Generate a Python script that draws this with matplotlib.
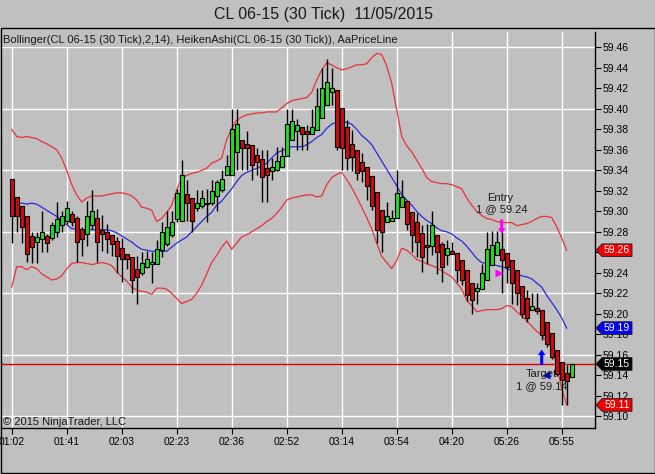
import matplotlib
matplotlib.use("Agg")
import matplotlib.pyplot as plt
import numpy as np
from matplotlib.patches import Polygon, Rectangle

plt.rcParams["font.family"] = ["Liberation Sans", "DejaVu Sans"]

TITLE = "CL 06-15 (30 Tick)  11/05/2015"
INDICATORS = "Bollinger(CL 06-15 (30 Tick),2,14), HeikenAshi(CL 06-15 (30 Tick)), AaPriceLine"
COPYRIGHT = "\u00a9 2015 NinjaTrader, LLC"

time_labels = ["01:02", "01:41", "02:03", "02:23", "02:36", "02:52",
               "03:14", "03:54", "04:20", "05:26", "05:55"]
label_every = 11  # bars between time labels

# Heiken Ashi bars
ha_open = [
    59.332, 59.314, 59.305, 59.295, 59.276, 59.270, 59.273, 59.276, 59.274, 59.280,
    59.287, 59.291, 59.297, 59.293, 59.283, 59.278, 59.287, 59.293, 59.282, 59.280,
    59.277, 59.271, 59.264, 59.258, 59.255, 59.244, 59.240, 59.246, 59.249, 59.249,
    59.262, 59.268, 59.277, 59.292, 59.291, 59.317, 59.313, 59.303, 59.305, 59.307,
    59.308, 59.315, 59.321, 59.335, 59.335, 59.358, 59.370, 59.366, 59.365, 59.355,
    59.351, 59.342, 59.339, 59.340, 59.343, 59.354, 59.370, 59.378, 59.382, 59.378,
    59.375, 59.379, 59.391, 59.404, 59.416, 59.418, 59.401, 59.382, 59.366, 59.360,
    59.348, 59.343, 59.334, 59.319, 59.301, 59.290, 59.291, 59.293, 59.304, 59.310,
    59.299, 59.290, 59.279, 59.267, 59.266, 59.277, 59.268, 59.257, 59.261, 59.259,
    59.252, 59.243, 59.230, 59.222, 59.224, 59.233, 59.248, 59.257, 59.263, 59.259,
    59.252, 59.243, 59.227, 59.215, 59.204, 59.206, 59.204, 59.192, 59.181, 59.165,
    59.153, 59.142, 59.138,
]
ha_close = [
    59.295, 59.295, 59.285, 59.258, 59.265, 59.275, 59.280, 59.269, 59.287, 59.292,
    59.295, 59.303, 59.290, 59.270, 59.273, 59.295, 59.300, 59.270, 59.278, 59.273,
    59.268, 59.256, 59.253, 59.253, 59.233, 59.236, 59.250, 59.253, 59.251, 59.263,
    59.280, 59.285, 59.290, 59.318, 59.335, 59.308, 59.291, 59.308, 59.313, 59.308,
    59.320, 59.329, 59.332, 59.344, 59.380, 59.385, 59.362, 59.362, 59.345, 59.348,
    59.333, 59.335, 59.343, 59.349, 59.354, 59.385, 59.388, 59.384, 59.375, 59.375,
    59.382, 59.403, 59.420, 59.426, 59.420, 59.363, 59.362, 59.352, 59.353, 59.337,
    59.339, 59.325, 59.305, 59.282, 59.280, 59.295, 59.293, 59.318, 59.314, 59.288,
    59.277, 59.270, 59.255, 59.265, 59.287, 59.260, 59.246, 59.264, 59.258, 59.243,
    59.233, 59.218, 59.213, 59.225, 59.240, 59.263, 59.267, 59.270, 59.252, 59.246,
    59.230, 59.220, 59.200, 59.196, 59.208, 59.203, 59.179, 59.170, 59.158, 59.141,
    59.135, 59.134, 59.151,
]
ha_high = [
    59.332, 59.314, 59.305, 59.295, 59.280, 59.280, 59.300, 59.278, 59.290, 59.309,
    59.300, 59.310, 59.300, 59.295, 59.285, 59.310, 59.321, 59.302, 59.296, 59.288,
    59.277, 59.275, 59.274, 59.258, 59.255, 59.256, 59.260, 59.261, 59.260, 59.272,
    59.290, 59.300, 59.300, 59.322, 59.350, 59.331, 59.313, 59.321, 59.321, 59.322,
    59.331, 59.331, 59.340, 59.355, 59.400, 59.400, 59.370, 59.378, 59.365, 59.362,
    59.360, 59.360, 59.352, 59.363, 59.363, 59.400, 59.400, 59.390, 59.382, 59.384,
    59.400, 59.420, 59.440, 59.449, 59.440, 59.418, 59.401, 59.389, 59.379, 59.360,
    59.357, 59.343, 59.334, 59.319, 59.301, 59.309, 59.301, 59.340, 59.331, 59.310,
    59.299, 59.298, 59.287, 59.288, 59.300, 59.277, 59.270, 59.272, 59.270, 59.259,
    59.252, 59.243, 59.230, 59.230, 59.249, 59.280, 59.281, 59.281, 59.280, 59.259,
    59.252, 59.243, 59.227, 59.223, 59.220, 59.220, 59.204, 59.192, 59.181, 59.165,
    59.153, 59.150, 59.151,
]
ha_low = [
    59.269, 59.280, 59.269, 59.251, 59.250, 59.250, 59.260, 59.260, 59.272, 59.275,
    59.280, 59.288, 59.286, 59.251, 59.256, 59.266, 59.283, 59.251, 59.261, 59.259,
    59.256, 59.240, 59.231, 59.244, 59.220, 59.210, 59.238, 59.245, 59.230, 59.249,
    59.255, 59.266, 59.275, 59.290, 59.291, 59.291, 59.280, 59.300, 59.303, 59.290,
    59.306, 59.300, 59.319, 59.335, 59.335, 59.340, 59.340, 59.340, 59.331, 59.335,
    59.309, 59.309, 59.331, 59.339, 59.343, 59.354, 59.370, 59.360, 59.360, 59.360,
    59.375, 59.379, 59.391, 59.404, 59.404, 59.360, 59.340, 59.340, 59.339, 59.331,
    59.329, 59.311, 59.301, 59.269, 59.260, 59.290, 59.291, 59.293, 59.304, 59.282,
    59.260, 59.255, 59.241, 59.249, 59.257, 59.239, 59.231, 59.248, 59.258, 59.231,
    59.228, 59.212, 59.200, 59.210, 59.224, 59.233, 59.248, 59.257, 59.220, 59.230,
    59.210, 59.209, 59.196, 59.192, 59.204, 59.200, 59.174, 59.168, 59.156, 59.139,
    59.111, 59.111, 59.138,
]

# Bollinger(2,14) bands, one value per completed bar
bb_upper = [
    59.380, 59.373, 59.372, 59.373, 59.372, 59.371, 59.368, 59.366, 59.363, 59.360,
    59.352, 59.340, 59.326, 59.316, 59.309, 59.313, 59.315, 59.315, 59.315, 59.316,
    59.317, 59.318, 59.318, 59.317, 59.315, 59.311, 59.304, 59.303, 59.301, 59.290,
    59.293, 59.299, 59.306, 59.321, 59.332, 59.335, 59.337, 59.338, 59.340, 59.342,
    59.347, 59.349, 59.352, 59.370, 59.381, 59.389, 59.392, 59.394, 59.395, 59.396,
    59.396, 59.397, 59.397, 59.397, 59.401, 59.405, 59.408, 59.409, 59.410, 59.411,
    59.416, 59.428, 59.438, 59.445, 59.443, 59.440, 59.438, 59.439, 59.441, 59.443,
    59.443, 59.444, 59.450, 59.454, 59.453, 59.442, 59.425, 59.399, 59.373, 59.364,
    59.358, 59.350, 59.342, 59.333, 59.329, 59.328, 59.327, 59.327, 59.326, 59.324,
    59.322, 59.313, 59.306, 59.300, 59.296, 59.293, 59.292, 59.290, 59.289, 59.289,
    59.289, 59.286, 59.287, 59.288, 59.290, 59.293, 59.295, 59.295, 59.294, 59.285,
    59.274, 59.262,
]
bb_middle = [
    59.309, 59.308, 59.308, 59.307, 59.308, 59.307, 59.304, 59.301, 59.298, 59.295,
    59.291, 59.287, 59.283, 59.283, 59.282, 59.282, 59.282, 59.282, 59.282, 59.282,
    59.281, 59.279, 59.276, 59.273, 59.270, 59.266, 59.263, 59.262, 59.261, 59.261,
    59.261, 59.261, 59.265, 59.269, 59.272, 59.275, 59.280, 59.285, 59.290, 59.295,
    59.299, 59.306, 59.310, 59.316, 59.322, 59.329, 59.335, 59.338, 59.340, 59.342,
    59.344, 59.347, 59.352, 59.357, 59.359, 59.361, 59.363, 59.363, 59.363, 59.365,
    59.368, 59.372, 59.375, 59.381, 59.385, 59.387, 59.387, 59.387, 59.385, 59.380,
    59.374, 59.370, 59.365, 59.357, 59.349, 59.341, 59.333, 59.325, 59.316, 59.311,
    59.306, 59.300, 59.295, 59.291, 59.288, 59.284, 59.281, 59.280, 59.278, 59.274,
    59.271, 59.266, 59.260, 59.254, 59.250, 59.249, 59.249, 59.247, 59.246, 59.244,
    59.242, 59.239, 59.237, 59.236, 59.234, 59.230, 59.226, 59.218, 59.211, 59.204,
    59.196, 59.186,
]
bb_lower = [
    59.226, 59.246, 59.246, 59.243, 59.246, 59.244, 59.239, 59.236, 59.233, 59.234,
    59.237, 59.244, 59.249, 59.250, 59.250, 59.249, 59.248, 59.249, 59.250, 59.249,
    59.247, 59.241, 59.236, 59.232, 59.226, 59.223, 59.222, 59.221, 59.219, 59.225,
    59.225, 59.224, 59.220, 59.215, 59.210, 59.212, 59.214, 59.220, 59.228, 59.239,
    59.250, 59.257, 59.265, 59.271, 59.263, 59.269, 59.275, 59.277, 59.280, 59.283,
    59.286, 59.290, 59.293, 59.298, 59.304, 59.311, 59.313, 59.314, 59.315, 59.316,
    59.316, 59.314, 59.315, 59.326, 59.333, 59.336, 59.338, 59.331, 59.323, 59.314,
    59.304, 59.294, 59.283, 59.269, 59.256, 59.250, 59.244, 59.252, 59.264, 59.262,
    59.258, 59.253, 59.251, 59.249, 59.247, 59.245, 59.242, 59.239, 59.236, 59.230,
    59.224, 59.213, 59.208, 59.202, 59.203, 59.204, 59.204, 59.204, 59.205, 59.208,
    59.207, 59.202, 59.198, 59.193, 59.188, 59.183, 59.179, 59.173, 59.167, 59.150,
    59.127, 59.111,
]

entry_bar, entry_qty, entry_price = 98, 1, 59.24
target_bar, target_qty, target_price = 106, 1, 59.14

BG = "#C0C0C0"
UP = "#22DD22"
DOWN = "#D40A0A"
BAND = "#E8323A"
MID = "#2A2AE0"

fig = plt.figure(figsize=(6.55, 4.74), dpi=100, facecolor=BG)
ax = fig.add_axes([1 / 655, 46 / 474, 594 / 655, 396 / 474], facecolor=BG)
ax.set_xlim(-2.14, 116.66)
ax.set_ylim(59.0885, 59.4750)

# grid (white), drawn under everything
for g in np.arange(59.10, 59.47, 0.06):
    ax.axhline(g, color="white", lw=1, zorder=0.5)
tick_pos = np.arange(len(time_labels)) * label_every
for t in tick_pos:
    ax.axvline(t, color="white", lw=1, zorder=0.5)

o = np.array(ha_open)
c = np.array(ha_close)
h = np.array(ha_high)
lo = np.array(ha_low)
x = np.arange(len(o))
colors = np.where(c >= o, UP, DOWN)

bx = np.arange(len(bb_upper))
ax.plot(bx, bb_upper, color=BAND, lw=0.9, zorder=2)
ax.plot(bx, bb_lower, color=BAND, lw=0.9, zorder=2)
ax.plot(bx, bb_middle, color=MID, lw=0.9, zorder=2)

# AaPriceLine at last close
ax.axhline(c[-1], color="#E00000", lw=1, zorder=2.2)

ax.vlines(x, lo, h, color="black", lw=1, zorder=3)
ax.bar(x, np.abs(c - o), bottom=np.minimum(o, c), width=0.78, color=colors,
       edgecolor="black", linewidth=0.8, zorder=4)

# entry / target executions
e_tip = ha_high[entry_bar] - 0.002
e_tail = e_tip + 0.014
ax.annotate("", xy=(entry_bar, e_tip), xytext=(entry_bar, e_tail),
            arrowprops=dict(facecolor="#FF00FF", edgecolor="none", width=2.2,
                            headwidth=5.5, headlength=4, shrink=0), zorder=5)
ax.plot(entry_bar - 0.55, entry_price, marker=">", color="#FF00FF", ms=5.5, mec="none", zorder=5)
ax.annotate(f"{entry_qty} @ {entry_price:.2f}", xy=(entry_bar, e_tail), xytext=(0, 7.2),
            textcoords="offset points", ha="center", va="center", fontsize=8, color="#1a1a1a", zorder=6)
ax.annotate("Entry", xy=(entry_bar, e_tail), xytext=(-1, 15.8),
            textcoords="offset points", ha="center", va="center", fontsize=8, color="#1a1a1a", zorder=6)

t_tip = ha_low[target_bar] - 0.009
t_tail = t_tip - 0.015
ax.annotate("", xy=(target_bar, t_tip), xytext=(target_bar, t_tail),
            arrowprops=dict(facecolor="#0000FF", edgecolor="none", width=2.2,
                            headwidth=5.5, headlength=4, shrink=0), zorder=5)
ax.plot(target_bar + 0.82, target_price, marker="<", color="#0000FF", ms=5.5, mec="none", zorder=5)
ax.annotate("Target", xy=(target_bar, t_tail), xytext=(0, -6.8),
            textcoords="offset points", ha="center", va="center", fontsize=8, color="#1a1a1a", zorder=6)
ax.annotate(f"{target_qty} @ {target_price:.2f}", xy=(target_bar, t_tail), xytext=(0, -15.4),
            textcoords="offset points", ha="center", va="center", fontsize=8, color="#1a1a1a", zorder=6)

# axes styling
for side in ("top", "left"):
    ax.spines[side].set_visible(False)
for side in ("right", "bottom"):
    ax.spines[side].set_color("black")
    ax.spines[side].set_linewidth(1)

ax.yaxis.tick_right()
price_ticks = np.round(np.arange(59.10, 59.461, 0.02), 2)
ax.set_yticks(price_ticks)
ax.set_yticklabels([f"{v:.2f}" for v in price_ticks])
ax.tick_params(axis="y", direction="out", length=4, width=0.8, pad=1.5,
               labelsize=7.5, colors="black")
ax.set_xticks(tick_pos)
ax.set_xticklabels(time_labels)
ax.tick_params(axis="x", direction="out", length=4, width=0.8, pad=2.5,
               labelsize=7.5, colors="black")


def price_tag(value, color):
    tr = ax.get_yaxis_transform()
    hh = 0.0062
    pts = [(1.0017, value), (1.0118, value + hh), (1.0623, value + hh),
           (1.0623, value - hh), (1.0118, value - hh)]
    ax.add_patch(Polygon(pts, closed=True, transform=tr, facecolor=color,
                         edgecolor="#202020", lw=0.6, clip_on=False, zorder=8))
    ax.text(1.037, value, f"{value:.2f}", transform=tr, color="white", fontsize=7.5,
            ha="center", va="center", zorder=9, clip_on=False)


price_tag(bb_upper[-1], "#EE0000")
price_tag(bb_middle[-1], "#0000EE")
price_tag(ha_close[-1], "#000000")
price_tag(bb_lower[-1], "#EE0000")

# indicator label with background hiding the grid
ax.add_patch(Rectangle((0, (428 - 46.5) / 396), 0.67, 1 - (428 - 46.5) / 396,
                       transform=ax.transAxes, facecolor=BG, edgecolor="none", zorder=1))
ax.text(0.0034, (428 - 40) / 396, INDICATORS, transform=ax.transAxes, fontsize=8,
        ha="left", va="center", color="#1a1a1a", zorder=6)
ax.text(0.0034, (428 - 422) / 396, COPYRIGHT, transform=ax.transAxes, fontsize=8,
        ha="left", va="center", color="#1a1a1a", zorder=6)

fig.text(323 / 655, 1 - 14 / 474, TITLE, ha="center", va="center", fontsize=11.5, color="#1a1a1a")

# outer frame of the chart panel
fig.add_artist(Rectangle((0.5 / 655, 1.5 / 474), 654 / 655, 445 / 474, transform=fig.transFigure,
                         fill=False, edgecolor="black", lw=1))

fig.savefig("out.png", dpi=100, facecolor=BG)
